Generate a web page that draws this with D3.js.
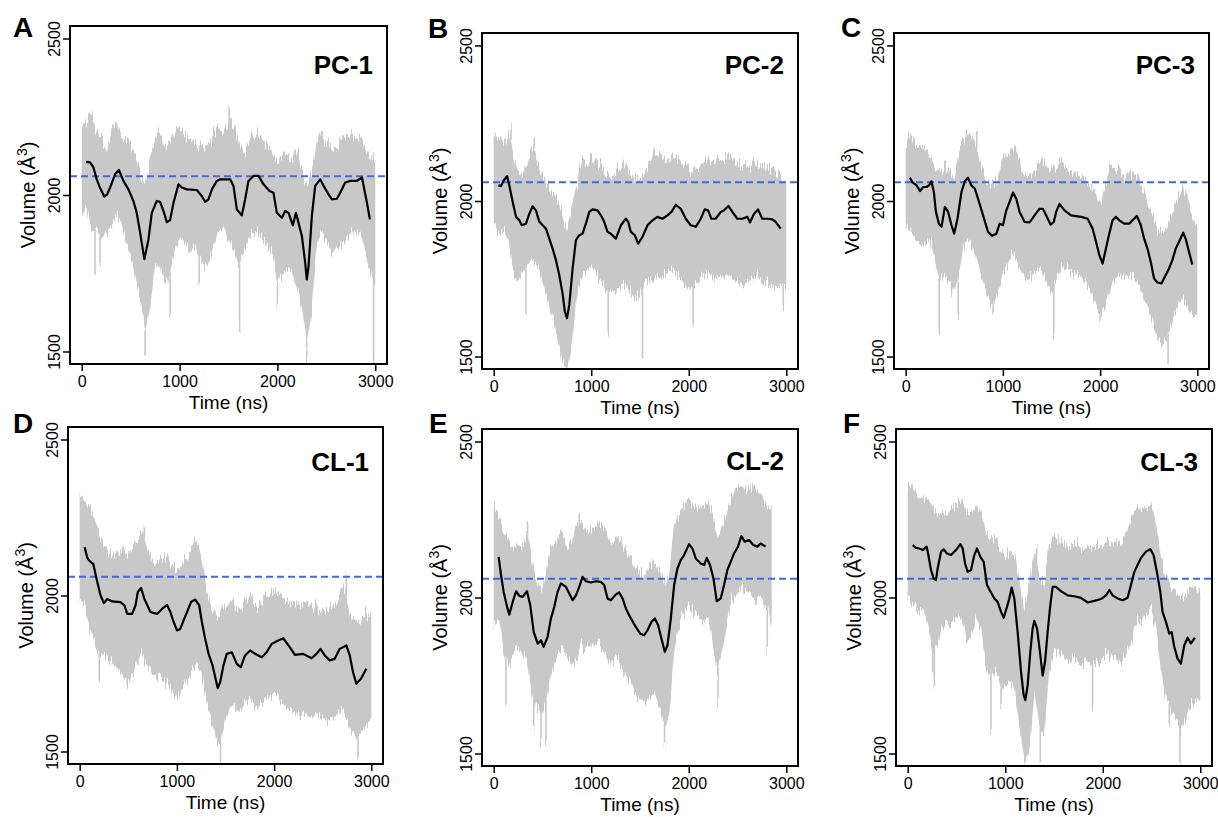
<!DOCTYPE html>
<html>
<head>
<meta charset="utf-8">
<script src="https://cdn.jsdelivr.net/npm/d3@7"></script>
<style>
  body { margin: 0; background: #fff; }
  text { font-family: "Liberation Sans", Arial, sans-serif; fill: #000; }
</style>
</head>
<body>
<svg id="fig" width="1218" height="817"></svg>
<script>
// sampling times (ns) for the raw-trace envelope
var bandTime = [0,50,100,150,200,250,300,350,400,450,500,550,600,650,700,750,800,850,900,950,
  1000,1050,1100,1150,1200,1250,1300,1350,1400,1450,1500,1550,1600,1650,1700,1750,1800,1850,1900,1950,
  2000,2050,2100,2150,2200,2250,2300,2350,2400,2450,2500,2550,2600,2650,2700,2750,2800,2850,2900,2950,3000];
var xTicks = [0, 1000, 2000, 3000];
var yTicks = [1500, 2000, 2500];
var refVolume = 2060;

// PC-1
var pc1Hi = [2230,2232,2260,2200,2178,2146,2200,2226,2189,2178,2157,2114,2072,2029,2114,2178,2200,2146,2157,2200,
  2221,2200,2178,2168,2168,2157,2168,2200,2210,2200,2242,2221,2178,2125,2168,2200,2189,2168,2157,2136,
  2114,2125,2125,2114,2136,2093,2029,2072,2168,2200,2178,2157,2157,2178,2189,2200,2178,2200,2146,2114,2114];
var pc1Lo = [1940,1965,1880,1900,1858,1880,1900,1933,1922,1858,1804,1740,1666,1559,1644,1772,1772,1719,1751,1826,
  1858,1858,1815,1837,1804,1772,1783,1837,1880,1900,1858,1826,1772,1815,1858,1880,1880,1858,1837,1815,
  1719,1740,1772,1751,1708,1634,1516,1634,1837,1880,1858,1815,1826,1837,1858,1880,1880,1880,1815,1751,1708];
var pc1Line = [[45,2106],[85,2104],[120,2088],[153,2050],[187,2023],[230,1995],[260,2002],[290,2024],[341,2066],[380,2080],
  [426,2045],[477,2018],[528,1981],[562,1943],[597,1879],[640,1795],[682,1858],[716,1943],[767,1981],[801,1978],
  [842,1943],[869,1913],[903,1920],[938,1975],[989,2034],[1023,2024],[1074,2018],[1176,2016],[1227,1997],[1261,1978],
  [1295,1986],[1330,2018],[1381,2045],[1415,2050],[1517,2050],[1551,2029],[1585,1954],[1636,1935],[1670,1986],[1704,2045],
  [1756,2061],[1807,2061],[1858,2034],[1919,2013],[1960,2007],[1994,1943],[2045,1927],[2080,1949],[2114,1943],[2158,1903],
  [2189,1943],[2216,1911],[2250,1869],[2284,1783],[2300,1730],[2318,1772],[2352,1933],[2386,2029],[2438,2050],[2472,2029],
  [2523,2002],[2557,1986],[2608,1988],[2642,2007],[2693,2040],[2744,2045],[2812,2045],[2864,2056],[2881,2029],[2915,1975],[2945,1922]];
var pc1Spikes = [[136,1740],[187,1783],[648,1479],[903,1623],[1200,1719],[1507,2280],[1613,1575],[2000,1644],[2300,1468],[2983,1463]];

// PC-2
var pc2Hi = [2205,2200,2178,2221,2146,2093,2082,2125,2168,2114,2082,2050,2029,2007,1965,1901,1986,2050,2136,2114,
  2146,2125,2114,2082,2072,2093,2114,2114,2082,2072,2072,2104,2114,2157,2146,2125,2146,2146,2136,2114,
  2104,2104,2114,2136,2136,2125,2136,2136,2157,2136,2114,2114,2114,2114,2125,2114,2104,2104,2093,2082,2050];
var pc2Lo = [1933,1890,1901,1879,1772,1740,1772,1794,1815,1794,1740,1687,1623,1569,1495,1462,1527,1687,1762,1772,
  1794,1772,1740,1719,1708,1708,1730,1740,1708,1687,1687,1730,1751,1751,1751,1762,1772,1772,1762,1740,
  1719,1719,1740,1762,1772,1751,1762,1751,1762,1751,1740,1730,1740,1751,1762,1740,1740,1730,1719,1730,1730];
var pc2Line = [[48,2050],[75,2048],[102,2066],[137,2080],[160,2050],[195,1997],[229,1949],[263,1938],[287,1922],[331,1927],
  [365,1959],[399,1983],[433,1970],[468,1933],[502,1922],[536,1911],[570,1879],[604,1847],[638,1810],[672,1762],
  [706,1703],[730,1644],[751,1623],[775,1666],[809,1783],[843,1874],[877,1890],[911,1895],[945,1927],[980,1965],
  [1014,1973],[1065,1970],[1099,1954],[1133,1933],[1167,1901],[1201,1895],[1253,1879],[1304,1922],[1355,1943],[1379,1933],
  [1406,1901],[1447,1890],[1481,1863],[1526,1885],[1577,1922],[1628,1938],[1679,1949],[1730,1943],[1782,1954],[1823,1965],
  [1867,1988],[1918,1975],[1969,1943],[2020,1922],[2072,1917],[2123,1943],[2164,1973],[2198,1970],[2232,1943],[2276,1943],
  [2328,1965],[2362,1970],[2406,1984],[2447,1965],[2498,1943],[2549,1943],[2601,1949],[2628,1931],[2669,1959],[2710,1973],
  [2754,1943],[2805,1943],[2857,1941],[2891,1933],[2942,1911]];
var pc2Spikes = [[177,2237],[331,1644],[416,2184],[1174,1580],[1526,1484],[2044,1596],[2969,1655]];

// PC-3
var pc3Hi = [2178,2221,2189,2178,2168,2157,2114,2093,2114,2093,2072,2168,2200,2221,2189,2146,2093,2050,2050,2072,
  2146,2157,2178,2146,2093,2072,2093,2114,2136,2114,2093,2114,2136,2114,2093,2093,2082,2072,2050,2029,
  1986,2040,2114,2104,2093,2082,2093,2082,2072,2029,1986,1943,1901,1901,1922,1965,2007,2050,2007,1943,1922];
var pc3Lo = [1922,1901,1879,1858,1858,1879,1815,1740,1762,1740,1708,1772,1858,1879,1837,1794,1740,1687,1666,1708,
  1762,1794,1837,1804,1762,1751,1762,1772,1783,1740,1708,1751,1783,1783,1772,1762,1762,1740,1708,1666,
  1634,1655,1719,1751,1762,1751,1762,1762,1730,1687,1655,1602,1548,1548,1569,1623,1666,1687,1666,1623,1634];
var pc3Line = [[44,2075],[68,2061],[113,2050],[147,2032],[181,2045],[215,2045],[239,2050],[266,2063],[290,2029],[311,1965],
  [342,1927],[369,1917],[403,1981],[437,1965],[471,1922],[499,1895],[533,1943],[574,2029],[608,2063],[640,2075],
  [676,2050],[711,2040],[745,2007],[796,1954],[847,1901],[888,1888],[933,1895],[967,1927],[1001,1922],[1035,1970],
  [1069,1997],[1104,2027],[1138,2007],[1172,1965],[1223,1933],[1274,1931],[1326,1954],[1377,1975],[1411,1975],[1445,1954],
  [1490,1924],[1524,1933],[1548,1965],[1582,1991],[1633,1970],[1701,1954],[1804,1949],[1872,1943],[1923,1911],[1958,1869],
  [1992,1826],[2026,1799],[2060,1847],[2094,1895],[2128,1938],[2162,1949],[2197,1938],[2248,1927],[2299,1927],[2333,1938],
  [2378,1952],[2419,1922],[2453,1879],[2487,1847],[2521,1804],[2555,1751],[2590,1738],[2631,1735],[2675,1762],[2709,1783],
  [2743,1810],[2778,1847],[2812,1869],[2855,1898],[2880,1879],[2914,1837],[2948,1796]];
var pc3Spikes = [[345,1564],[471,1698],[540,1639],[731,2237],[899,1634],[1524,1569],[1999,1612],[2699,1473]];

// CL-1
var cl1Hi = [2331,2299,2288,2256,2203,2160,2139,2128,2139,2150,2128,2160,2182,2203,2150,2118,2107,2118,2128,2096,
  2075,2096,2118,2160,2171,2128,2032,1968,1925,1947,1957,1989,1968,1947,1979,1989,1979,1968,1989,2011,
  2021,2011,1989,1979,1968,1968,1979,1968,1968,1957,1947,1957,1968,1989,2032,1989,1925,1904,1925,1947,1947];
var cl1Lo = [1989,1968,1904,1861,1818,1818,1797,1776,1754,1733,1722,1754,1797,1818,1776,1754,1744,1733,1722,1690,
  1669,1690,1722,1754,1776,1754,1669,1605,1541,1519,1605,1647,1637,1626,1658,1669,1647,1647,1658,1679,
  1690,1669,1647,1637,1626,1615,1626,1605,1615,1626,1605,1594,1605,1626,1637,1605,1562,1541,1562,1583,1605];
var cl1Line = [[51,2155],[79,2120],[113,2107],[140,2101],[174,2053],[215,2000],[249,1976],[284,1989],[335,1981],[420,1979],
  [461,1968],[489,1941],[540,1941],[574,1968],[598,2011],[632,2024],[666,1989],[728,1947],[796,1941],[847,1957],
  [899,1970],[933,1947],[967,1915],[1001,1888],[1035,1893],[1069,1920],[1104,1947],[1145,1979],[1189,1987],[1230,1968],
  [1257,1915],[1291,1861],[1326,1813],[1367,1776],[1420,1703],[1445,1722],[1479,1776],[1513,1813],[1565,1818],[1616,1781],
  [1657,1770],[1701,1808],[1753,1824],[1804,1813],[1872,1802],[1923,1818],[1975,1845],[2043,1856],[2094,1863],[2163,1834],
  [2214,1810],[2299,1813],[2385,1799],[2436,1813],[2477,1829],[2521,1808],[2573,1792],[2624,1797],[2675,1829],[2743,1840],
  [2778,1808],[2812,1754],[2846,1717],[2897,1735],[2948,1765]];
var cl1Spikes = [[106,1882],[202,1733],[489,1701],[666,2224],[1449,1471],[2743,2053],[2863,1482]];

// CL-2 (trace ends near 2850 ns)
var cl2Hi = [2296,2264,2211,2189,2157,2179,2168,2211,2104,2040,2018,2104,2168,2189,2211,2157,2189,2232,2243,2211,
  2211,2232,2243,2211,2168,2189,2189,2157,2125,2104,2082,2072,2104,2114,2082,2040,2082,2232,2264,2296,
  2318,2296,2286,2296,2307,2264,2189,2232,2286,2328,2350,2360,2339,2360,2339,2328,2296,2275];
var cl2Lo = [1901,1933,1836,1783,1826,1847,1826,1783,1676,1644,1622,1676,1761,1815,1836,1815,1783,1804,1847,1826,
  1847,1858,1847,1815,1783,1804,1793,1751,1729,1697,1676,1654,1676,1697,1644,1590,1622,1826,1911,1943,
  1975,1954,1943,1933,1933,1847,1761,1826,1943,1997,2018,2029,2018,2007,1997,1997,1975,1890];
var cl2Line = [[51,2130],[75,2072],[102,2018],[137,1970],[160,1945],[195,1986],[229,2020],[263,2005],[297,2002],[341,2020],
  [375,1975],[410,1890],[451,1852],[485,1863],[512,1842],[553,1874],[587,1933],[621,1970],[655,2018],[689,2045],
  [741,2034],[775,2013],[809,1991],[843,2007],[877,2034],[911,2066],[945,2052],[997,2048],[1048,2052],[1099,2050],
  [1133,2040],[1167,1997],[1201,1991],[1253,2010],[1287,2016],[1321,1997],[1355,1965],[1406,1933],[1457,1906],[1502,1884],
  [1543,1879],[1577,1895],[1618,1922],[1652,1933],[1686,1911],[1720,1868],[1754,1826],[1782,1847],[1816,1933],[1850,2040],
  [1884,2093],[1918,2120],[1952,2136],[2003,2171],[2038,2157],[2072,2125],[2123,2109],[2157,2104],[2184,2127],[2218,2104],
  [2253,2061],[2287,1988],[2328,1997],[2362,2040],[2396,2088],[2430,2114],[2464,2141],[2505,2163],[2539,2197],[2573,2179],
  [2618,2184],[2662,2168],[2703,2163],[2737,2173],[2788,2163]];
var cl2Spikes = [[126,1655],[348,2248],[410,1585],[485,1532],[536,1537],[877,2270],[1751,1521],[2300,1671],[2805,1836]];

// CL-3
var cl3Hi = [2360,2360,2318,2318,2318,2296,2264,2275,2264,2286,2296,2318,2275,2264,2296,2275,2211,2189,2189,2157,
  2136,2147,2136,2040,1954,2050,2157,2061,2040,2168,2189,2189,2179,2168,2168,2168,2157,2157,2168,2168,
  2168,2179,2168,2179,2179,2211,2264,2286,2286,2286,2296,2232,2125,2061,2029,2018,1997,2007,2040,2040,2018];
var cl3Lo = [1997,1975,1954,1965,1911,1836,1847,1911,1911,1911,1933,1943,1868,1868,1933,1890,1783,1761,1761,1729,
  1719,1729,1697,1569,1473,1516,1697,1590,1558,1761,1826,1826,1815,1804,1804,1793,1793,1783,1793,1793,
  1804,1815,1804,1804,1804,1826,1868,1911,1933,1954,1954,1890,1761,1676,1633,1612,1569,1612,1654,1676,1676];
var cl3Line = [[51,2168],[85,2159],[120,2157],[154,2152],[195,2163],[212,2136],[239,2088],[266,2061],[290,2056],[307,2093],
  [342,2147],[369,2154],[403,2141],[444,2136],[495,2152],[540,2171],[564,2157],[588,2109],[615,2082],[649,2088],
  [683,2136],[711,2157],[745,2130],[779,2114],[813,2040],[847,2020],[888,1997],[922,1986],[957,1954],[984,1935],
  [1018,1970],[1042,1997],[1066,2032],[1093,1997],[1127,1890],[1162,1762],[1189,1687],[1206,1671],[1230,1719],[1257,1826],
  [1281,1901],[1298,1925],[1326,1901],[1356,1826],[1384,1750],[1408,1794],[1435,1890],[1462,1975],[1486,2034],[1520,2034],
  [1572,2020],[1640,2007],[1708,2004],[1777,1999],[1845,1984],[1913,1989],[1981,1995],[2033,2007],[2067,2024],[2101,2007],
  [2152,1997],[2204,1991],[2255,1999],[2289,2040],[2323,2082],[2357,2104],[2392,2127],[2443,2147],[2487,2155],[2521,2136],
  [2555,2082],[2590,2018],[2613,1954],[2648,1922],[2682,1884],[2706,1890],[2733,1842],[2767,1804],[2801,1788],[2836,1847],
  [2870,1871],[2904,1853],[2945,1871]];
var cl3Spikes = [[96,1933],[256,1761],[273,1719],[854,1564],[957,1655],[1322,2163],[1360,1467],[1896,1644],[2682,1585],[2791,1473]];

var panels = [
  {letter: "A", title: "PC-1", hi: pc1Hi, lo: pc1Lo, line: pc1Line, spikes: pc1Spikes},
  {letter: "B", title: "PC-2", hi: pc2Hi, lo: pc2Lo, line: pc2Line, spikes: pc2Spikes},
  {letter: "C", title: "PC-3", hi: pc3Hi, lo: pc3Lo, line: pc3Line, spikes: pc3Spikes},
  {letter: "D", title: "CL-1", hi: cl1Hi, lo: cl1Lo, line: cl1Line, spikes: cl1Spikes},
  {letter: "E", title: "CL-2", hi: cl2Hi, lo: cl2Lo, line: cl2Line, spikes: cl2Spikes},
  {letter: "F", title: "CL-3", hi: cl3Hi, lo: cl3Lo, line: cl3Line, spikes: cl3Spikes}
];

// plot boxes: left, top, width, height; title baseline; panel letter position
var layout = [
  {box: [70, 26, 317, 338],  titleY: 74,  lx: 13,  ly: 37},
  {box: [482, 33, 316, 336], titleY: 74,  lx: 428, ly: 38},
  {box: [894, 33, 315, 336], titleY: 74,  lx: 841, ly: 37},
  {box: [68, 427, 315, 337], titleY: 471, lx: 13,  ly: 433},
  {box: [482, 429, 316, 337], titleY: 470, lx: 429, ly: 433},
  {box: [896, 429, 316, 337], titleY: 471, lx: 843, ly: 433}
];

var svg = d3.select("#fig");
var grey = "#c8c8c8";

// roughens the envelope edges into thin vertical streaks, like a dense raw trace
var filt = svg.append("defs").append("filter")
    .attr("id", "rough")
    .attr("x", "-5%").attr("y", "-15%").attr("width", "110%").attr("height", "130%")
    .attr("color-interpolation-filters", "sRGB");
filt.append("feTurbulence")
    .attr("type", "fractalNoise")
    .attr("baseFrequency", "0.7 0.004")
    .attr("numOctaves", 2)
    .attr("seed", 4)
    .attr("result", "noise");
filt.append("feColorMatrix")
    .attr("in", "noise")
    .attr("type", "matrix")
    .attr("values", "0 0 0 0 0.5  0 1 0 0 0  0 0 0 0 0  0 0 0 0 1")
    .attr("result", "map");
filt.append("feDisplacementMap")
    .attr("in", "SourceGraphic")
    .attr("in2", "map")
    .attr("scale", 26)
    .attr("xChannelSelector", "R")
    .attr("yChannelSelector", "G");

panels.forEach(function(p, i) {
  var L = layout[i],
      bx = L.box[0], by = L.box[1], bw = L.box[2], bh = L.box[3];

  var x = d3.scaleLinear().domain([-120, 3120]).range([bx, bx + bw]);
  var y = d3.scaleLinear().domain([1460, 2540]).range([by + bh, by]);

  var clipId = "clip" + i;
  svg.append("clipPath").attr("id", clipId)
    .append("rect").attr("x", bx).attr("y", by).attr("width", bw).attr("height", bh);

  var g = svg.append("g").attr("clip-path", "url(#" + clipId + ")");
  var raw = g.append("g").attr("filter", "url(#rough)");

  var band = p.hi.map(function(h, k) { return {t: bandTime[k], hi: h, lo: p.lo[k]}; });
  var times = bandTime.slice(0, p.hi.length);
  var loAt = d3.scaleLinear().domain(times).range(p.lo).clamp(true);
  var hiAt = d3.scaleLinear().domain(times).range(p.hi).clamp(true);

  var area = d3.area()
      .x(function(d) { return x(d.t); })
      .y0(function(d) { return y(d.lo); })
      .y1(function(d) { return y(d.hi); });

  raw.append("path")
      .datum(band)
      .attr("fill", grey)
      .attr("d", area);

  raw.selectAll(".spike")
    .data(p.spikes)
    .enter().append("line")
      .attr("x1", function(d) { return x(d[0]); })
      .attr("x2", function(d) { return x(d[0]); })
      .attr("y1", function(d) { return y(d[1]); })
      .attr("y2", function(d) { return d[1] < loAt(d[0]) ? y(loAt(d[0])) : y(hiAt(d[0])); })
      .attr("stroke", grey)
      .attr("stroke-width", 1.6);

  g.append("line")
      .attr("x1", bx).attr("x2", bx + bw)
      .attr("y1", y(refVolume)).attr("y2", y(refVolume))
      .attr("stroke", "#4169e1")
      .attr("stroke-width", 2)
      .attr("stroke-dasharray", "7,4");

  var line = d3.line()
      .x(function(d) { return x(d[0]); })
      .y(function(d) { return y(d[1]); });

  g.append("path")
      .datum(p.line)
      .attr("fill", "none")
      .attr("stroke", "#000")
      .attr("stroke-width", 2.2)
      .attr("stroke-linejoin", "round")
      .attr("d", line);

  // axes
  var xa = svg.append("g")
      .attr("transform", "translate(0," + (by + bh) + ")")
      .call(d3.axisBottom(x).tickValues(xTicks).tickSize(7).tickPadding(5).tickFormat(d3.format("d")));
  xa.select(".domain").remove();
  xa.selectAll("line").attr("stroke-width", 1.5);
  xa.selectAll("text").attr("font-size", 16).attr("font-family", null);

  var ya = svg.append("g")
      .attr("transform", "translate(" + bx + ",0)")
      .call(d3.axisLeft(y).tickValues(yTicks).tickSize(7).tickFormat(d3.format("d")));
  ya.select(".domain").remove();
  ya.selectAll("line").attr("stroke-width", 1.5);
  ya.selectAll("text")
      .attr("font-size", 16)
      .attr("font-family", null)
      .attr("x", 0).attr("y", -10).attr("dy", 0)
      .attr("text-anchor", "middle")
      .attr("transform", "rotate(-90)");

  svg.append("rect")
      .attr("x", bx).attr("y", by).attr("width", bw).attr("height", bh)
      .attr("fill", "none").attr("stroke", "#000").attr("stroke-width", 2);

  // labels
  svg.append("text")
      .attr("x", bx + bw / 2).attr("y", by + bh + 45)
      .attr("text-anchor", "middle")
      .attr("font-size", 19)
      .text("Time (ns)");

  var yl = svg.append("text")
      .attr("transform", "translate(" + (bx - 35) + "," + (by + bh / 2) + ") rotate(-90)")
      .attr("text-anchor", "middle")
      .attr("font-size", 20);
  yl.append("tspan").text("Volume (Å");
  yl.append("tspan").attr("dy", -8).attr("font-size", 14).text("3");
  yl.append("tspan").attr("dy", 8).text(")");

  svg.append("text")
      .attr("x", bx + bw - 14).attr("y", L.titleY)
      .attr("text-anchor", "end")
      .attr("font-size", 26)
      .attr("font-weight", "bold")
      .text(p.title);

  svg.append("text")
      .attr("x", L.lx).attr("y", L.ly)
      .attr("font-size", 28)
      .attr("font-weight", "bold")
      .text(p.letter);
});
</script>
</body>
</html>
